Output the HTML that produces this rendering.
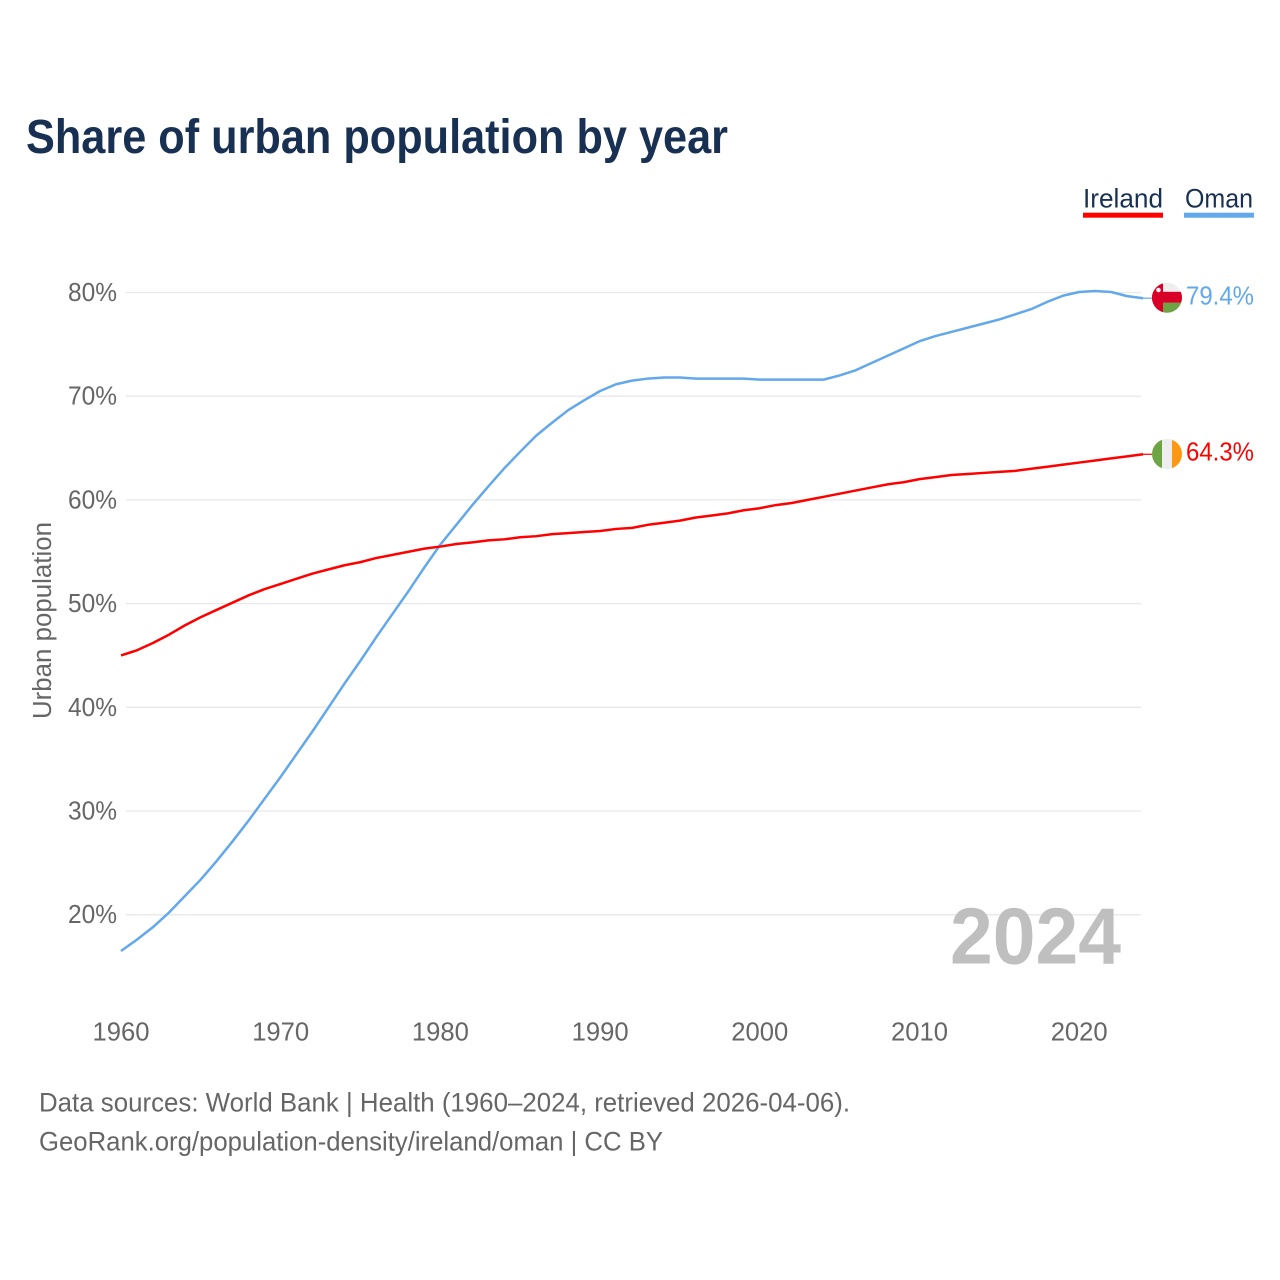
<!DOCTYPE html>
<html lang="en">
<head>
<meta charset="utf-8">
<title>Share of urban population by year</title>
<style>
html,body{margin:0;padding:0;background:#fff;width:1280px;height:1280px;overflow:hidden}
svg{display:block}
text{font-family:"Liberation Sans",sans-serif}
</style>
</head>
<body>
<svg id="chart" width="1280" height="1280" viewBox="0 0 1280 1280" xmlns="http://www.w3.org/2000/svg">
  <defs>
    <clipPath id="oman-clip"><circle cx="1167" cy="297.8" r="15"/></clipPath>
    <clipPath id="ireland-clip"><circle cx="1167" cy="454" r="15"/></clipPath>
  </defs>
  <text x="26" y="153" font-size="48" font-weight="700" fill="#183153" textLength="702" lengthAdjust="spacingAndGlyphs">Share of urban population by year</text>

  <g id="grid"></g>
  <g id="yticks"></g>
  <g id="xticks"></g>

  <text transform="translate(51,620.5) rotate(-90)" text-anchor="middle" font-size="25.5" fill="#666" textLength="197" lengthAdjust="spacingAndGlyphs">Urban population</text>

  <text x="950" y="963.5" font-size="80" font-weight="700" fill="#bfbfbf" textLength="171" lengthAdjust="spacingAndGlyphs">2024</text>

  <g id="lines"></g>

  <g>
    <text x="1083" y="207.7" font-size="27" fill="#183153" textLength="80" lengthAdjust="spacingAndGlyphs">Ireland</text>
    <rect x="1083" y="212.7" width="80" height="5" fill="#ff0000"/>
  </g>
  <g>
    <text x="1185" y="207.7" font-size="27" fill="#183153" textLength="68" lengthAdjust="spacingAndGlyphs">Oman</text>
    <rect x="1184" y="212.7" width="70" height="5" fill="#62a8ea"/>
  </g>

  <g clip-path="url(#oman-clip)">
    <rect x="1152" y="282" width="30" height="32" fill="#eeeeee"/>
    <rect x="1152" y="291.8" width="30" height="11" fill="#d80027"/>
    <rect x="1163" y="302.8" width="19" height="11" fill="#6da544"/>
    <rect x="1152" y="282" width="11" height="32" fill="#d80027"/>
    <circle cx="1158.5" cy="290" r="2.3" fill="#eeeeee"/>
  </g>
  <g clip-path="url(#ireland-clip)">
    <rect x="1152" y="439" width="10" height="30" fill="#6da544"/>
    <rect x="1162" y="439" width="10" height="30" fill="#eeeeee"/>
    <rect x="1172" y="439" width="10" height="30" fill="#ff9811"/>
  </g>

  <text x="1186" y="304.7" font-size="25.5" fill="#62a8ea" textLength="68" lengthAdjust="spacingAndGlyphs">79.4%</text>
  <text x="1186" y="460.5" font-size="25.5" fill="#ff0000" textLength="68" lengthAdjust="spacingAndGlyphs">64.3%</text>

  <text x="39" y="1111.5" font-size="26.5" fill="#666" textLength="811" lengthAdjust="spacingAndGlyphs">Data sources: World Bank | Health (1960–2024, retrieved 2026-04-06).</text>
  <text x="39" y="1150.5" font-size="26.5" fill="#666" textLength="624" lengthAdjust="spacingAndGlyphs">GeoRank.org/population-density/ireland/oman | CC BY</text>
</svg>
<script>
const firstYear = 1960;
const xTickYears = [1960, 1970, 1980, 1990, 2000, 2010, 2020];
const yTickValues = [20, 30, 40, 50, 60, 70, 80];
const irelandValues = [45.0,45.5,46.2,47.0,47.9,48.7,49.4,50.1,50.8,51.4,51.9,52.4,52.9,53.3,53.7,54.0,54.4,54.7,55.0,55.3,55.5,55.75,55.9,56.1,56.2,56.4,56.5,56.7,56.8,56.9,57.0,57.2,57.3,57.6,57.8,58.0,58.3,58.5,58.7,59.0,59.2,59.5,59.7,60.0,60.3,60.6,60.9,61.2,61.5,61.7,62.0,62.2,62.4,62.5,62.6,62.7,62.8,63.0,63.2,63.4,63.6,63.8,64.0,64.2,64.4];
const omanValues = [16.5,17.6,18.8,20.2,21.8,23.4,25.2,27.1,29.1,31.2,33.3,35.5,37.7,40.0,42.3,44.5,46.8,49.0,51.2,53.5,55.7,57.6,59.5,61.3,63.05,64.65,66.2,67.45,68.65,69.6,70.5,71.15,71.5,71.7,71.8,71.8,71.7,71.7,71.7,71.7,71.6,71.6,71.6,71.6,71.6,72.0,72.5,73.2,73.9,74.6,75.3,75.8,76.2,76.6,77.0,77.4,77.9,78.4,79.1,79.7,80.05,80.15,80.05,79.65,79.45];

const NS = 'http://www.w3.org/2000/svg';
function xScale(year) { return 121 + (year - 1960) * 15.97; }
function yScale(v) { return 292.5 + (80 - v) * 10.37; }
function make(tag, attrs) {
  const el = document.createElementNS(NS, tag);
  for (const k in attrs) el.setAttribute(k, attrs[k]);
  return el;
}

const grid = document.getElementById('grid');
const yticks = document.getElementById('yticks');
yTickValues.forEach(function (v) {
  const line = make('line', {x1: 126, x2: 1141, y1: yScale(v), y2: yScale(v), stroke: '#e8e8e8', 'stroke-width': 1.3});
  
  
  grid.appendChild(line);
  const t = make('text', {x: 117, y: yScale(v) + 8.5, 'text-anchor': 'end', 'font-size': 25.5, fill: '#666', textLength: 49, lengthAdjust: 'spacingAndGlyphs'});
  t.textContent = v + '%';
  
  
  yticks.appendChild(t);
});

const xticks = document.getElementById('xticks');
xTickYears.forEach(function (y) {
  const t = make('text', {x: xScale(y), y: 1040.5, 'text-anchor': 'middle', 'font-size': 26, fill: '#666', textLength: 57, lengthAdjust: 'spacingAndGlyphs'});
  t.textContent = String(y);
  
  
  xticks.appendChild(t);
});

function pathFor(values) {
  const last = values[values.length - 1];
  const d = values.map(function (v, i) {
    return (i ? 'L' : 'M') + xScale(firstYear + i).toFixed(2) + ' ' + yScale(v).toFixed(2);
  }).join(' ');
  return d;
}
function stubFor(values) {
  const last = values[values.length - 1];
  const lastYear = firstYear + values.length - 1;
  return 'M' + xScale(lastYear).toFixed(2) + ' ' + yScale(last).toFixed(2) + ' L1152 ' + yScale(last).toFixed(2);
}
const lines = document.getElementById('lines');
const omanStub = make('path', {d: stubFor(omanValues), fill: 'none', stroke: '#62a8ea', 'stroke-width': 1.2});


lines.appendChild(omanStub);
const irelandStub = make('path', {d: stubFor(irelandValues), fill: 'none', stroke: '#ff0000', 'stroke-width': 1.2});


lines.appendChild(irelandStub);
const omanPath = make('path', {d: pathFor(omanValues), fill: 'none', stroke: '#62a8ea', 'stroke-width': 2.5, 'stroke-linejoin': 'round'});


lines.appendChild(omanPath);
const irelandPath = make('path', {d: pathFor(irelandValues), fill: 'none', stroke: '#ff0000', 'stroke-width': 2.5, 'stroke-linejoin': 'round'});


lines.appendChild(irelandPath);
</script>
</body>
</html>
